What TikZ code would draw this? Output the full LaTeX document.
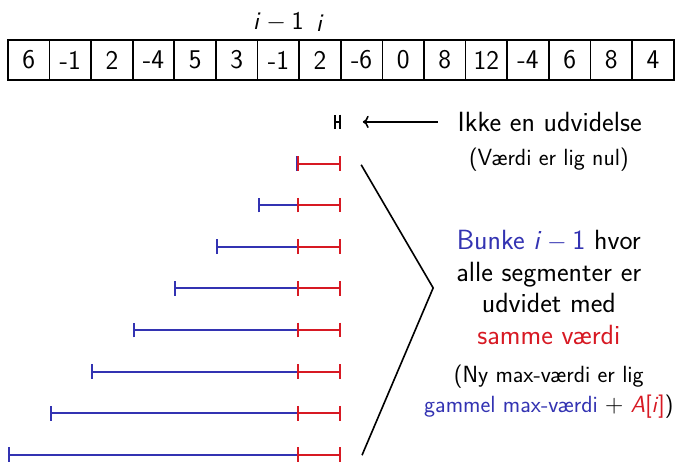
\documentclass[tikz,border=0pt]{standalone}
\usetikzlibrary{arrows.meta,positioning}
\renewcommand{\familydefault}{\sfdefault}
\definecolor{bunkeblaa}{rgb}{0.2,0.2,0.7}
\definecolor{bunkerod}{RGB}{215,25,35}

\begin{document}
\begin{tikzpicture}[
    celle/.style={draw, line width=1.2pt, minimum width=1cm, minimum height=0.97cm,
      inner sep=0pt, font=\fontsize{18.5}{20}\selectfont},
    seg/.style={line width=1.4pt, {Bar[width=10pt]}-{Bar[width=10pt]}},
    stor/.style={align=center, font=\fontsize{19}{21.5}\selectfont},
    lille/.style={align=center, font=\fontsize{16}{20.5}\selectfont}]
\useasboundingbox (-0.19,0) rectangle (16.08,11.08);
% arrayet
\foreach \v [count=\k from 0] in {6,-1,2,-4,5,3,-1,2,-6,0,8,12,-4,6,8,4}
    \node[celle] (c\k) at (\k+0.5,9.64) {\v};
\node[stor, font=\fontsize{17.5}{20}\selectfont, above=0.05cm of c6] (iminus) {\textit{i}${}-{}$1};
\node[stor, font=\fontsize{17.5}{20}\selectfont, above=0.05cm of c7] (iidx) {\textit{i}};

% segmenterne, blaa del foerst
\foreach \s [count=\r from 1] in {6.92,6,5,4,3,2,1,0}
  {\draw[seg, bunkeblaa] (\s,8.15-\r) -- (7,8.15-\r);
   \draw[seg, bunkerod] (6.955,8.15-\r) -- (8,8.15-\r);}
\draw[seg] (7.84,8.15) -- (8,8.15);

\node[stor] (ikke) at (13.02,8.15) {Ikke en udvidelse};
\coordinate (pil) at (8.53,8.15);
\draw[line width=1.1pt, ->, shorten <=10pt] (ikke) -- (pil);
\node[lille] (nul) at (13.0,7.24) {(Værdi er lig nul)};

% klammen
\draw[line width=1.1pt] (8.49,7.12) -- (10.22,4.16) -- (8.51,0.14);
\node[stor] (bunke) at (13.0,4.17) {{\color{bunkeblaa}Bunke \textit{i}${}-{}$1} hvor\\
    alle segmenter er\\udvidet med\\{\color{bunkerod}samme værdi}};
\node[lille] (maks) at (13.0,1.66) {(Ny max-værdi er lig\\
    {\color{bunkeblaa}gammel max-værdi} $+$ {\color{bunkerod}\textit{A}[\textit{i}]})};
\end{tikzpicture}
\end{document}
